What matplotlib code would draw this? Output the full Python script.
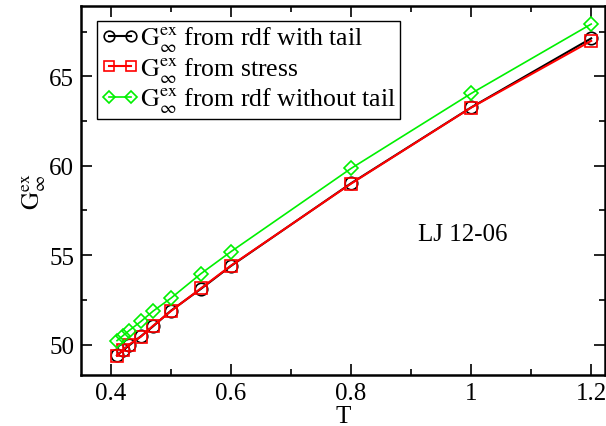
import numpy as np
import matplotlib
matplotlib.use("Agg")
import matplotlib.pyplot as plt
from matplotlib.ticker import MultipleLocator

plt.rcParams['font.family'] = 'serif'
plt.rcParams['font.serif'] = ['Liberation Serif', 'DejaVu Serif']
plt.rcParams['mathtext.fontset'] = 'stix'

T = [0.41, 0.42, 0.43, 0.45, 0.47, 0.5, 0.55, 0.6, 0.8, 1.0, 1.2]
g_rdf_tail = [49.40, 49.68, 49.95, 50.47, 51.02, 51.90, 53.12, 54.40, 59.02, 63.26, 67.12]
g_stress = [49.38, 49.70, 50.00, 50.45, 51.05, 51.88, 53.15, 54.42, 59.00, 63.25, 66.98]
g_rdf_notail = [50.22, 50.50, 50.78, 51.30, 51.87, 52.60, 53.97, 55.20, 59.85, 64.04, 67.92]

lab = r'$\mathrm{G}^{\mathrm{ex}}_{\infty}$'

fig = plt.figure(figsize=(6.06, 4.27), dpi=100)
ax = fig.add_axes([81/606, 51/427, 524/606, 369/427])

ax.plot(T, g_rdf_tail, 'o-', color='black', mfc='none', ms=9, mew=1.2, lw=1.5,
        label=lab + ' from rdf with tail')
ax.plot(T, g_stress, 's-', color='red', mfc='none', ms=9, mew=1.2, lw=1.5,
        label=lab + ' from stress')
ax.plot(T, g_rdf_notail, 'D-', color='#00f000', mfc='none', ms=7, mew=1.2, lw=1.2,
        label=lab + ' from rdf without tail')

ax.set_xlim(0.35, 1.223)
ax.set_ylim(48.3, 68.93)
ax.xaxis.set_minor_locator(MultipleLocator(0.1))
ax.yaxis.set_major_locator(MultipleLocator(5))
ax.yaxis.set_minor_locator(MultipleLocator(2.5))
ax.set_xticks([0.4, 0.6, 0.8, 1.0, 1.2])
ax.set_xticklabels(['0.4', '0.6', '0.8', '1', '1.2'])

ax.tick_params(which='both', direction='in', top=True, right=True, labelsize=18, width=1.2)
ax.tick_params(which='major', length=8, pad=5)
ax.tick_params(which='minor', length=4)
for s in ax.spines.values():
    s.set_linewidth(1.8)

ax.set_xlabel('T', fontsize=18, labelpad=1)
ax.set_ylabel(lab, fontsize=18, labelpad=1)

ax.text(0.912, 56.2, 'LJ 12-06', fontsize=18, va='center', ha='left')

leg = ax.legend(loc='upper left', bbox_to_anchor=(0.031, 0.959), borderaxespad=0,
                fontsize=18.5, fancybox=False, edgecolor='black', framealpha=1,
                numpoints=2, handlelength=1.45, handletextpad=0.05, labelspacing=0.05,
                borderpad=0.15, markerscale=0.85)
leg.get_frame().set_linewidth(1.0)

fig.savefig('out.png', dpi=100)
